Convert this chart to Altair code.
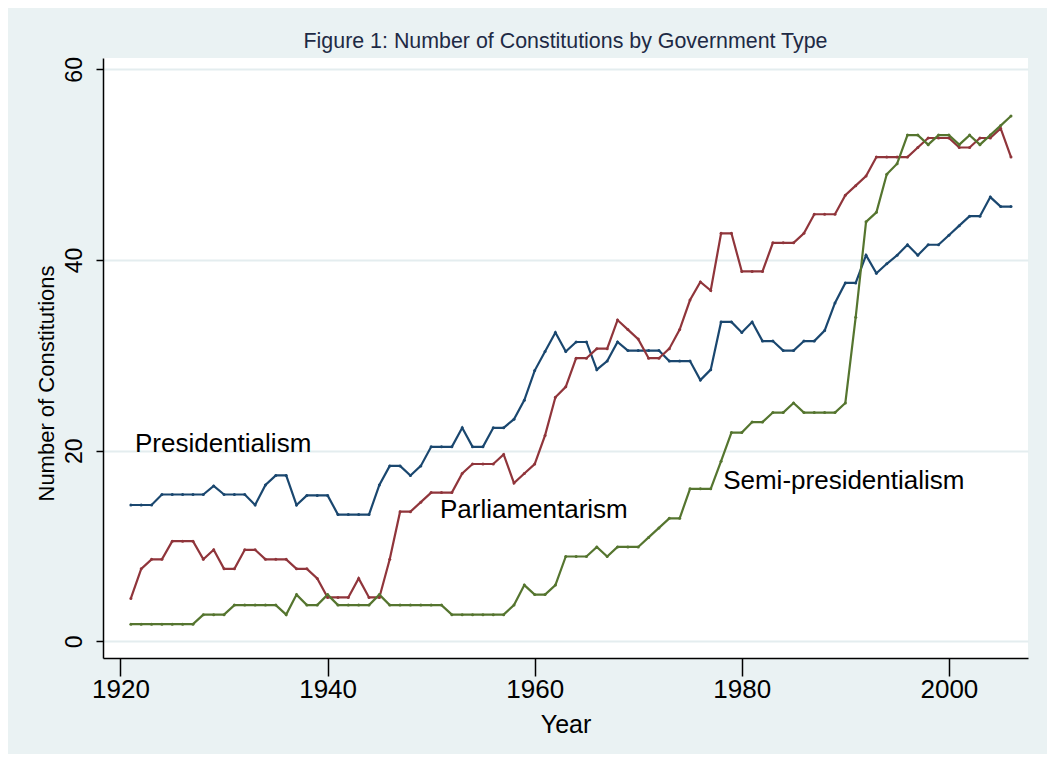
import altair as alt
import pandas as pd

# ---------------- data ----------------
years = list(range(1921, 2007))

presidentialism = [
    14.3, 14.3, 14.3, 15.4, 15.4, 15.4, 15.4, 15.4, 16.3, 15.4,
    15.4, 15.4, 14.3, 16.4, 17.4, 17.4, 14.3, 15.3, 15.3, 15.3,
    13.3, 13.3, 13.3, 13.3, 16.4, 18.4, 18.4, 17.4, 18.4, 20.4,
    20.4, 20.4, 22.4, 20.4, 20.4, 22.4, 22.4, 23.3, 25.3, 28.4,
    30.4, 32.4, 30.4, 31.4, 31.4, 28.5, 29.4, 31.4, 30.5, 30.5,
    30.5, 30.5, 29.4, 29.4, 29.4, 27.4, 28.5, 33.5, 33.5, 32.4,
    33.5, 31.5, 31.5, 30.5, 30.5, 31.5, 31.5, 32.6, 35.5, 37.6,
    37.6, 40.5, 38.6, 39.6, 40.5, 41.6, 40.5, 41.6, 41.6, 42.6,
    43.6, 44.6, 44.6, 46.6, 45.6, 45.6,
]

parliamentarism = [
    4.5, 7.6, 8.6, 8.6, 10.5, 10.5, 10.5, 8.6, 9.6, 7.6,
    7.6, 9.6, 9.6, 8.6, 8.6, 8.6, 7.6, 7.6, 6.6, 4.6,
    4.6, 4.6, 6.6, 4.6, 4.6, 8.6, 13.6, 13.6, 14.6, 15.6,
    15.6, 15.6, 17.6, 18.6, 18.6, 18.6, 19.6, 16.6, 17.6, 18.6,
    21.6, 25.6, 26.7, 29.7, 29.7, 30.7, 30.7, 33.7, 32.7, 31.7,
    29.7, 29.7, 30.7, 32.7, 35.8, 37.7, 36.8, 42.8, 42.8, 38.8,
    38.8, 38.8, 41.8, 41.8, 41.8, 42.8, 44.8, 44.8, 44.8, 46.8,
    47.8, 48.8, 50.8, 50.8, 50.8, 50.8, 51.8, 52.8, 52.8, 52.8,
    51.8, 51.8, 52.8, 52.8, 53.8, 50.8,
]

semi_presidentialism = [
    1.8, 1.8, 1.8, 1.8, 1.8, 1.8, 1.8, 2.8, 2.8, 2.8,
    3.8, 3.8, 3.8, 3.8, 3.8, 2.8, 4.9, 3.8, 3.8, 4.9,
    3.8, 3.8, 3.8, 3.8, 4.9, 3.8, 3.8, 3.8, 3.8, 3.8,
    3.8, 2.8, 2.8, 2.8, 2.8, 2.8, 2.8, 3.8, 5.9, 4.9,
    4.9, 5.9, 8.9, 8.9, 8.9, 9.9, 8.9, 9.9, 9.9, 9.9,
    10.9, 11.9, 12.9, 12.9, 16.0, 16.0, 16.0, 18.9, 21.9, 21.9,
    23.0, 23.0, 24.0, 24.0, 25.0, 24.0, 24.0, 24.0, 24.0, 25.0,
    34.0, 44.0, 45.0, 49.0, 50.1, 53.1, 53.1, 52.1, 53.1, 53.1,
    52.1, 53.1, 52.1, 53.1, 54.1, 55.1,
]

series_names = ["Presidentialism", "Parliamentarism", "Semi-presidentialism"]
series_colors = ["#1A476F", "#90353B", "#55752F"]

label_text = ["Presidentialism", "Parliamentarism", "Semi-presidentialism"]
label_year = [1921.4, 1950.85, 1978.2]
label_value = [19.9, 12.9, 16.0]

x_ticks = [1920, 1940, 1960, 1980, 2000]
y_ticks = [0, 20, 40, 60]

# ---------------- tables ----------------
rows = []
for name, vals in zip(series_names, [presidentialism, parliamentarism, semi_presidentialism]):
    for yr, v in zip(years, vals):
        rows.append({"year": yr, "count": v, "type": name})
df = pd.DataFrame(rows)
labels_df = pd.DataFrame({"label": label_text, "year": label_year, "count": label_value})

FONT = "Liberation Sans, Arial, Helvetica, sans-serif"
BG = "#EAF2F3"

x_scale = alt.Scale(domain=[1918.31, 2007.64], nice=False, zero=False)
y_scale = alt.Scale(domain=[-1.75, 61.19], nice=False, zero=False)

x_axis = alt.Axis(
    values=x_ticks, format="d", grid=False,
    tickSize=18, tickWidth=1.5, tickColor="black",
    domainColor="black", domainWidth=1.5,
    labelFont=FONT, labelFontSize=26, labelColor="black",
    labelPadding=0, labelBaseline="top",
    titleFont=FONT, titleFontSize=25, titleColor="black",
    titleFontWeight="normal", titleBaseline="alphabetic", titleY=74,
)
y_axis = alt.Axis(
    values=y_ticks, grid=True, gridColor="#E4EDEF", gridWidth=2,
    tickSize=7, tickWidth=1.5, tickColor="black",
    domainColor="black", domainWidth=1.5,
    labelFont=FONT, labelFontSize=23, labelColor="black",
    labelAngle=270, labelAlign="center", labelBaseline="alphabetic", labelPadding=15,
    titleFont=FONT, titleFontSize=22, titleColor="black", titleFontWeight="normal",
    titleAngle=270, titleAlign="center", titleBaseline="alphabetic",
    titleX=-50, titleY=325,
)

lines = alt.Chart(df).mark_line(
    strokeWidth=2.2,
    point=alt.OverlayMarkDef(size=9, filled=True, opacity=1),
).encode(
    x=alt.X("year:Q", scale=x_scale, title="Year", axis=x_axis),
    y=alt.Y("count:Q", scale=y_scale, title="Number of Constitutions", axis=y_axis),
    color=alt.Color("type:N", scale=alt.Scale(domain=series_names, range=series_colors), legend=None),
)

texts = alt.Chart(labels_df).mark_text(
    align="left", baseline="alphabetic", fontSize=26, font=FONT, color="black"
).encode(
    x=alt.X("year:Q", scale=x_scale),
    y=alt.Y("count:Q", scale=y_scale),
    text="label:N",
)

chart = alt.layer(lines, texts).properties(
    width=925,
    height=600,
    autosize=alt.AutoSizeParams(type="none"),
    padding={"left": 95, "top": 50, "right": 19, "bottom": 96},
    background=BG,
    title=alt.TitleParams(
        text="Figure 1: Number of Constitutions by Government Type",
        font=FONT, fontSize=21.4, fontWeight="normal", color="#1E2A45",
        anchor="middle", frame="group", offset=9, baseline="alphabetic", dy=22,
    ),
).configure_view(fill="white", stroke=None)

chart.save("out.html", embed_options={"renderer": "svg", "actions": False})
